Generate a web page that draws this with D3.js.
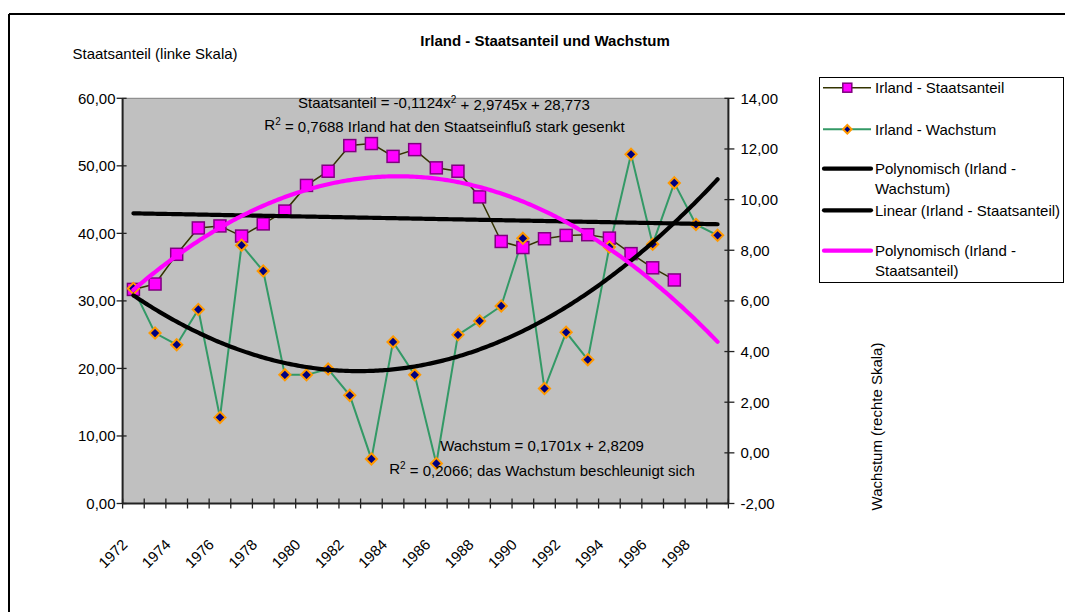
<!DOCTYPE html>
<html>
<head>
<meta charset="utf-8">
<script src="https://cdn.jsdelivr.net/npm/d3@7"></script>
<style>
  html, body { margin: 0; padding: 0; background: #fff; }
  svg text { font-family: "Liberation Sans", Arial, sans-serif; fill: #000; }
</style>
</head>
<body>
<svg id="chart" width="1065" height="612"></svg>
<script>
// Years on the category axis
const years = [1972, 1973, 1974, 1975, 1976, 1977, 1978, 1979, 1980, 1981, 1982, 1983, 1984, 1985,
               1986, 1987, 1988, 1989, 1990, 1991, 1992, 1993, 1994, 1995, 1996, 1997, 1998, 1999];
// Labelled years on the x axis
const yearLabels = [1972, 1974, 1976, 1978, 1980, 1982, 1984, 1986, 1988, 1990, 1992, 1994, 1996, 1998];

// Government share in % of GDP (left axis), 1972–1997
const staatsanteil = [31.7, 32.5, 36.9, 40.8, 41.1, 39.6, 41.4, 43.3, 47.1, 49.2, 53.0, 53.3, 51.4, 52.4,
                      49.7, 49.2, 45.4, 38.8, 37.9, 39.2, 39.7, 39.8, 39.3, 37.0, 34.9, 33.1];
// Real growth in % (right axis), 1972–1999
const wachstum = [6.49, 4.73, 4.27, 5.66, 1.40, 8.20, 7.18, 3.08, 3.08, 3.31, 2.27, -0.24, 4.38, 3.08,
                  -0.42, 4.66, 5.21, 5.80, 8.47, 2.54, 4.76, 3.68, 8.13, 11.79, 8.24, 10.66, 9.02, 8.59];

// Polynomial trend of the government share as printed on the chart: a, b, c of a·x² + b·x + c
const staatsPolyCoef = [-0.1124, 2.9745, 28.773];

// Axis ticks
const leftTicks = [0, 10, 20, 30, 40, 50, 60];
const rightTicks = [-2, 0, 2, 4, 6, 8, 10, 12, 14];

const legendItems = [
  { lines: ["Irland - Staatsanteil"], kind: "square" },
  { lines: ["Irland - Wachstum"], kind: "diamond" },
  { lines: ["Polynomisch (Irland -", "Wachstum)"], kind: "black" },
  { lines: ["Linear (Irland - Staatsanteil)"], kind: "black" },
  { lines: ["Polynomisch (Irland -", "Staatsanteil)"], kind: "magenta" }
];

// ---- least squares helpers for the trend lines ----
function linearFit(ys) {
  const n = ys.length;
  const xs = ys.map((_, i) => i + 1);
  const mx = d3.mean(xs), my = d3.mean(ys);
  let sxy = 0, sxx = 0;
  xs.forEach((x, i) => { sxy += (x - mx) * (ys[i] - my); sxx += (x - mx) * (x - mx); });
  const b = sxy / sxx;
  return x => my + b * (x - mx);
}
function quadFit(ys) {
  // normal equations for y = a x² + b x + c
  const s = [0, 0, 0, 0, 0], t = [0, 0, 0];
  ys.forEach((y, i) => {
    const x = i + 1;
    for (let k = 0; k < 5; k++) s[k] += Math.pow(x, k);
    for (let k = 0; k < 3; k++) t[k] += y * Math.pow(x, k);
  });
  const M = [[s[4], s[3], s[2], t[2]], [s[3], s[2], s[1], t[1]], [s[2], s[1], s[0], t[0]]];
  for (let i = 0; i < 3; i++) {
    for (let j = i + 1; j < 3; j++) {
      const f = M[j][i] / M[i][i];
      for (let k = i; k < 4; k++) M[j][k] -= f * M[i][k];
    }
  }
  const r = [0, 0, 0];
  for (let i = 2; i >= 0; i--) {
    let v = M[i][3];
    for (let k = i + 1; k < 3; k++) v -= M[i][k] * r[k];
    r[i] = v / M[i][i];
  }
  return x => r[0] * x * x + r[1] * x + r[2];
}

// ---- layout ----
const svg = d3.select("#chart");
const plot = { left: 122.6, right: 728.4, top: 98.3, bottom: 503.5 };

const x = d3.scaleBand().domain(years).range([plot.left, plot.right]).paddingInner(0).paddingOuter(0);
const cx = yr => x(yr) + x.bandwidth() / 2;
const xi = d3.scaleLinear().domain([1, years.length]).range([cx(years[0]), cx(years[years.length - 1])]);
const yL = d3.scaleLinear().domain([0, 60]).range([plot.bottom, plot.top]);
const yR = d3.scaleLinear().domain([-2, 14]).range([plot.bottom, plot.top]);
const fmt = v => d3.format(".2f")(v).replace(".", ",").replace("−", "-");

// outer chart frame
svg.append("line").attr("x1", 9).attr("x2", 1065).attr("y1", 14).attr("y2", 14)
  .attr("stroke", "#000").attr("stroke-width", 2);
svg.append("line").attr("x1", 9).attr("x2", 9).attr("y1", 14).attr("y2", 612)
  .attr("stroke", "#000").attr("stroke-width", 2);

// plot area
svg.append("rect").attr("x", plot.left).attr("y", plot.top)
  .attr("width", plot.right - plot.left).attr("height", plot.bottom - plot.top)
  .attr("fill", "#c0c0c0").attr("stroke", "#808080").attr("stroke-width", 1);

// title and axis titles
svg.append("text").attr("x", 545).attr("y", 46).attr("text-anchor", "middle")
  .style("font-size", "15px").style("font-weight", "bold").text("Irland - Staatsanteil und Wachstum");
svg.append("text").attr("x", 72.5).attr("y", 58.5).style("font-size", "15px").text("Staatsanteil (linke Skala)");
svg.append("text").attr("transform", "translate(882,426.5) rotate(-90)").attr("text-anchor", "middle")
  .style("font-size", "15px").text("Wachstum (rechte Skala)");

// left axis
const gL = svg.append("g");
gL.append("line").attr("x1", plot.left).attr("x2", plot.left).attr("y1", plot.top).attr("y2", plot.bottom)
  .attr("stroke", "#222").attr("stroke-width", 2);
gL.selectAll("line.t").data(leftTicks).join("line").attr("class", "t")
  .attr("x1", plot.left - 6).attr("x2", plot.left + 4).attr("y1", d => yL(d)).attr("y2", d => yL(d))
  .attr("stroke", "#222").attr("stroke-width", 1.3);
gL.selectAll("text").data(leftTicks).join("text")
  .attr("x", 115.5).attr("y", d => yL(d)).attr("dy", "0.36em").attr("text-anchor", "end")
  .style("font-size", "15px").text(fmt);

// right axis
const gR = svg.append("g");
gR.append("line").attr("x1", plot.right).attr("x2", plot.right).attr("y1", plot.top).attr("y2", plot.bottom)
  .attr("stroke", "#222").attr("stroke-width", 2);
gR.selectAll("line.t").data(rightTicks).join("line").attr("class", "t")
  .attr("x1", plot.right - 4).attr("x2", plot.right + 6).attr("y1", d => yR(d)).attr("y2", d => yR(d))
  .attr("stroke", "#222").attr("stroke-width", 1.3);
gR.selectAll("text").data(rightTicks).join("text")
  .attr("x", 740.5).attr("y", d => yR(d)).attr("dy", "0.36em")
  .style("font-size", "15px").text(fmt);

// category axis with ticks between categories
const gX = svg.append("g");
gX.append("line").attr("x1", plot.left).attr("x2", plot.right).attr("y1", plot.bottom).attr("y2", plot.bottom)
  .attr("stroke", "#222").attr("stroke-width", 2);
const tickPos = years.map(y => x(y)).concat([plot.right]);
gX.selectAll("line.t").data(tickPos).join("line").attr("class", "t")
  .attr("x1", d => d).attr("x2", d => d).attr("y1", plot.bottom - 5).attr("y2", plot.bottom + 5)
  .attr("stroke", "#222").attr("stroke-width", 1.3);
gX.selectAll("text").data(yearLabels).join("text")
  .attr("transform", d => `translate(${cx(d) - 5},${plot.bottom + 42}) rotate(-45)`)
  .attr("text-anchor", "end").style("font-size", "15px").text(d => d);

// series lines
const lineS = d3.line().x((d, i) => cx(years[i])).y(d => yL(d));
const lineW = d3.line().x((d, i) => cx(years[i])).y(d => yR(d));
svg.append("path").attr("d", lineS(staatsanteil)).attr("fill", "none")
  .attr("stroke", "#333300").attr("stroke-width", 1.5);
svg.append("path").attr("d", lineW(wachstum)).attr("fill", "none")
  .attr("stroke", "#339966").attr("stroke-width", 2);

// markers
const sq = 12;
svg.selectAll("rect.m").data(staatsanteil).join("rect").attr("class", "m")
  .attr("x", (d, i) => cx(years[i]) - sq / 2).attr("y", d => yL(d) - sq / 2)
  .attr("width", sq).attr("height", sq)
  .attr("fill", "#ff00ff").attr("stroke", "#800080").attr("stroke-width", 1.5);
const diamond = r => `M0,${-r}L${r},0L0,${r}L${-r},0Z`;
svg.selectAll("path.m").data(wachstum).join("path").attr("class", "m")
  .attr("transform", (d, i) => `translate(${cx(years[i])},${yR(d)})`)
  .attr("d", diamond(5.6))
  .attr("fill", "#000080").attr("stroke", "#ff9900").attr("stroke-width", 2);

// trend lines
const samples = d3.range(1, years.length + 0.001, 0.1);
const polyS = t => staatsPolyCoef[0] * t * t + staatsPolyCoef[1] * t + staatsPolyCoef[2];
const linS = linearFit(staatsanteil);
const polyW = quadFit(wachstum);
const trend = (f, yScale) => d3.line().x(t => xi(t)).y(t => yScale(f(t)))(samples);
svg.append("path").attr("d", trend(polyW, yR)).attr("fill", "none")
  .attr("stroke", "#000").attr("stroke-width", 4.2).attr("stroke-linecap", "round");
svg.append("path").attr("d", trend(linS, yL)).attr("fill", "none")
  .attr("stroke", "#000").attr("stroke-width", 4.2).attr("stroke-linecap", "round");
svg.append("path").attr("d", trend(polyS, yL)).attr("fill", "none")
  .attr("stroke", "#ff00ff").attr("stroke-width", 4.2).attr("stroke-linecap", "round");

// trend labels
function label(cxp, y, parts) {
  const t = svg.append("text").attr("x", cxp).attr("y", y).attr("text-anchor", "middle").style("font-size", "15px");
  parts.forEach(p => {
    const s = t.append("tspan").text(p.t);
    if (p.sup) s.attr("dy", "-0.45em").style("font-size", "10px");
    if (p.after) s.attr("dy", "0.45em");
  });
}
label(444, 107.5, [{ t: "Staatsanteil = -0,1124x" }, { t: "2", sup: true }, { t: " + 2,9745x + 28,773", after: true }]);
label(444.5, 129.5, [{ t: "R" }, { t: "2", sup: true }, { t: " = 0,7688 Irland hat den Staatseinfluß stark gesenkt", after: true }]);
label(542, 451, [{ t: "Wachstum = 0,1701x + 2,8209" }]);
label(542, 473.5, [{ t: "R" }, { t: "2", sup: true }, { t: " = 0,2066; das Wachstum beschleunigt sich", after: true }]);

// legend
const lg = svg.append("g");
lg.append("rect").attr("x", 819.5).attr("y", 77.5).attr("width", 244).attr("height", 205)
  .attr("fill", "#fff").attr("stroke", "#000").attr("stroke-width", 1);
const rowY = [87.7, 129.3, 168.7, 210.3, 250.7];
legendItems.forEach((it, i) => {
  const y = rowY[i];
  const g = lg.append("g");
  if (it.kind === "square") {
    g.append("line").attr("x1", 823).attr("x2", 871).attr("y1", y).attr("y2", y)
      .attr("stroke", "#333300").attr("stroke-width", 1.5);
    g.append("rect").attr("x", 847.3 - 4.5).attr("y", y - 4.5).attr("width", 9).attr("height", 9)
      .attr("fill", "#ff00ff").attr("stroke", "#800080").attr("stroke-width", 1.5);
  } else if (it.kind === "diamond") {
    g.append("line").attr("x1", 823).attr("x2", 871).attr("y1", y).attr("y2", y)
      .attr("stroke", "#339966").attr("stroke-width", 2);
    g.append("path").attr("transform", `translate(847.3,${y})`).attr("d", diamond(4.3))
      .attr("fill", "#000080").attr("stroke", "#ff9900").attr("stroke-width", 2);
  } else {
    g.append("line").attr("x1", 824).attr("x2", 871).attr("y1", y).attr("y2", y)
      .attr("stroke", it.kind === "magenta" ? "#ff00ff" : "#000").attr("stroke-width", 4.2)
      .attr("stroke-linecap", "round");
  }
  it.lines.forEach((l, k) => {
    g.append("text").attr("x", 875).attr("y", y + 5.3 + k * 19.6).style("font-size", "15px").text(l);
  });
});
</script>
</body>
</html>
